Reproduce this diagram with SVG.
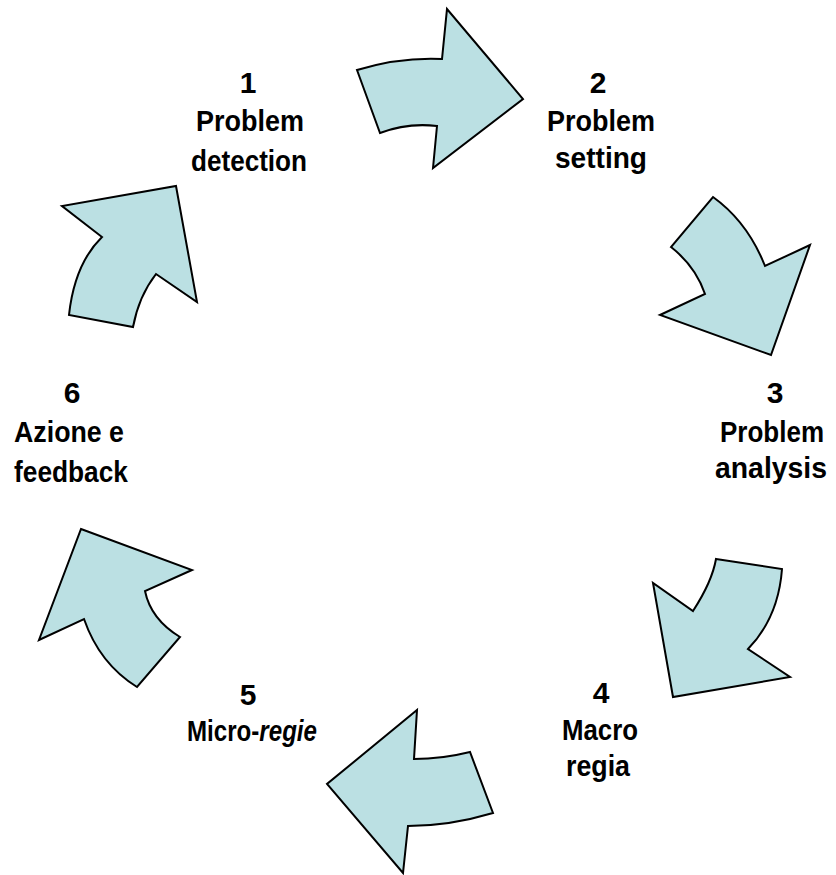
<svg xmlns="http://www.w3.org/2000/svg" width="836" height="875" viewBox="0 0 836 875">
<style>
.arrow{fill:#BBE0E3;stroke:#000;stroke-width:2;stroke-linejoin:miter}
.lbl{font-family:"Liberation Sans",Arial,sans-serif;font-weight:bold;font-size:30px;fill:#000;text-anchor:middle}
</style>
<rect width="836" height="875" fill="#fff"/>
<g id="connectors">
<path id="arrow1" class="arrow" d="M357,70 Q400,57 442,59 L447,9 L523,99 L433,168 L437,126 Q407.5,122.5 380,133 Z"/>
<path id="arrow2" class="arrow" d="M713,197 Q747.6,221.9 765,266 L810,245 L771,355 L660,315 L705,294 Q695.4,266.1 671,247 Z"/>
<path id="arrow3" class="arrow" d="M716,559 L782,569 Q778.4,617.6 748,649 L790,677 L673,697 L653,583 L693,611 Q712.1,581.6 716,559 Z"/>
<path id="arrow4" class="arrow" d="M417,710 L414,759 Q442,759 470,752 L493,813 Q449.5,826 408,826 L403,873 L327,784 Z"/>
<path id="arrow5" class="arrow" d="M81,529 L192,570 L145,591 Q150.8,619.3 180,637 L137,687 Q99.5,663.7 84,619 L39,640 Z"/>
<path id="arrow6" class="arrow" d="M176,186 L197,302 L156,274 Q138.8,296.2 133,327 L69,315 Q74.5,264 102,237 L62,206 Z"/>
</g>
<g id="n1" class="lbl">
<text x="248" y="93">1</text>
<text x="250" y="131" textLength="108" lengthAdjust="spacingAndGlyphs">Problem</text>
<text x="249" y="171" textLength="116" lengthAdjust="spacingAndGlyphs">detection</text>
</g>
<g id="n2" class="lbl">
<text x="598" y="93">2</text>
<text x="601" y="131" textLength="108" lengthAdjust="spacingAndGlyphs">Problem</text>
<text x="601" y="168" textLength="92" lengthAdjust="spacingAndGlyphs">setting</text>
</g>
<g id="n3" class="lbl">
<text x="775" y="403">3</text>
<text x="772" y="442" textLength="104" lengthAdjust="spacingAndGlyphs">Problem</text>
<text x="771" y="478" textLength="112" lengthAdjust="spacingAndGlyphs">analysis</text>
</g>
<g id="n4" class="lbl">
<text x="601" y="703">4</text>
<text x="600" y="740" textLength="76" lengthAdjust="spacingAndGlyphs">Macro</text>
<text x="598" y="776" textLength="64" lengthAdjust="spacingAndGlyphs">regia</text>
</g>
<g id="n5" class="lbl">
<text x="248" y="705">5</text>
<text x="252" y="741" textLength="130" lengthAdjust="spacingAndGlyphs">Micro-<tspan font-style="italic">regie</tspan></text>
</g>
<g id="n6" class="lbl">
<text x="72" y="403">6</text>
<text x="69" y="442" textLength="110" lengthAdjust="spacingAndGlyphs">Azione  e</text>
<text x="71" y="482" textLength="114" lengthAdjust="spacingAndGlyphs">feedback</text>
</g>
</svg>
